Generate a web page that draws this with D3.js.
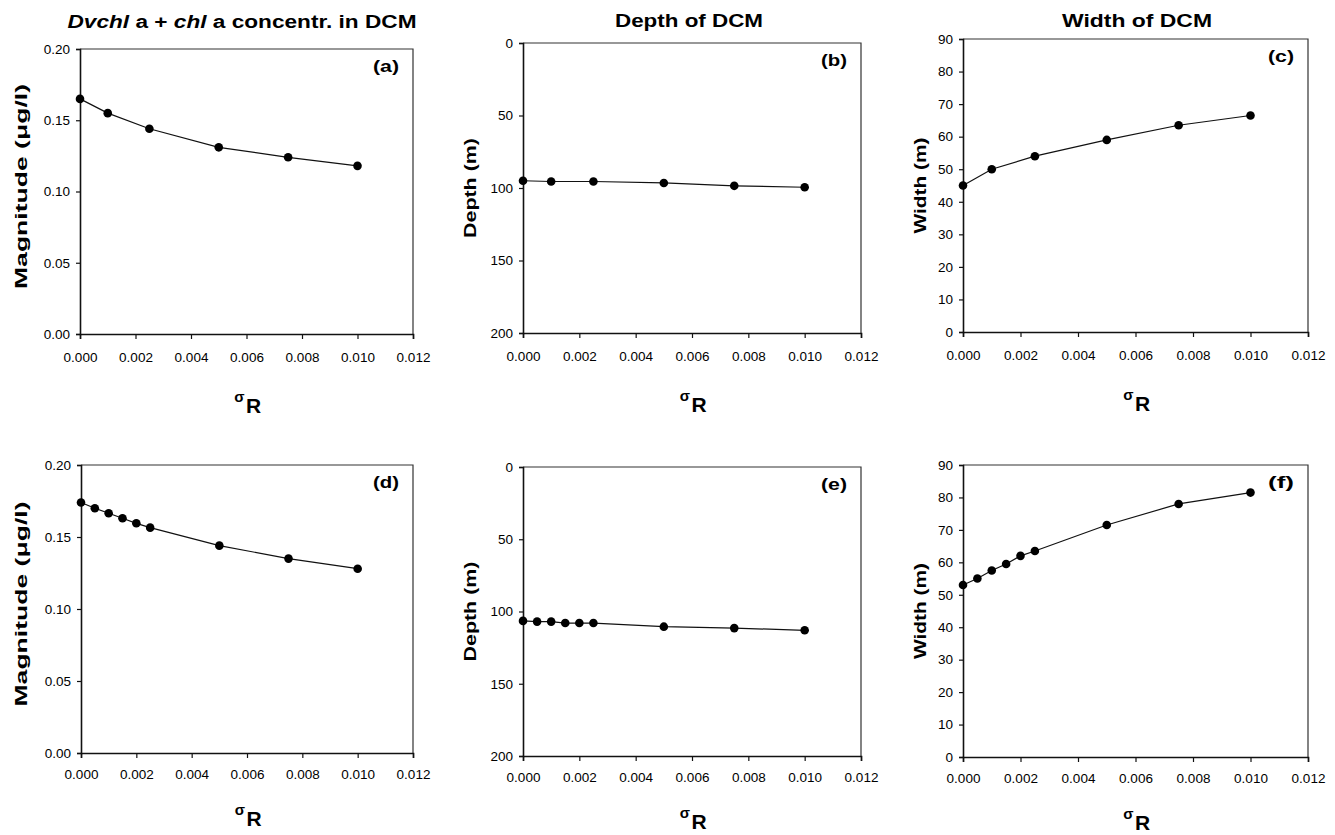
<!DOCTYPE html>
<html>
<head>
<meta charset="utf-8">
<script src="https://cdn.jsdelivr.net/npm/d3@7"></script>
<style>
  html, body { margin: 0; padding: 0; background: #fff; }
  svg { display: block; font-family: "Liberation Sans", Arial, sans-serif; }
  .tick text { font-size: 13.5px; fill: #000; }
</style>
</head>
<body>
<svg id="chart" width="1335" height="835"></svg>
<script>
// σR values used in each model run
const sigmaTop = [0, 0.001, 0.0025, 0.005, 0.0075, 0.010];
const sigmaBottom = [0, 0.0005, 0.001, 0.0015, 0.002, 0.0025, 0.005, 0.0075, 0.010];

// Dvchl a + chl a concentration at the DCM (µg/l)
const magnitudeTop = [0.165, 0.155, 0.144, 0.131, 0.124, 0.118];
const magnitudeBottom = [0.174, 0.170, 0.1665, 0.163, 0.1595, 0.1565, 0.144, 0.135, 0.128];

// Depth of the DCM (m)
const depthTop = [95, 95.5, 95.5, 96.5, 98.5, 99.5];
const depthBottom = [106.5, 107, 107, 108, 108, 108, 110.5, 111.5, 113];

// Width of the DCM (m)
const widthTop = [45, 50, 54, 59, 63.5, 66.5];
const widthBottom = [53, 55, 57.5, 59.5, 62, 63.5, 71.5, 78, 81.5];

// Axis ticks
const sigmaTicks = [0, 0.002, 0.004, 0.006, 0.008, 0.010, 0.012];
const magnitudeTicks = [0, 0.05, 0.10, 0.15, 0.20];
const depthTicks = [0, 50, 100, 150, 200];
const widthTicks = [0, 10, 20, 30, 40, 50, 60, 70, 80, 90];

const svg = d3.select("#chart");

const panels = [
  { id: "(a)", x: sigmaTop, y: magnitudeTop, yDomain: [0, 0.20], yTicks: magnitudeTicks, yFmt: d3.format(".2f"),
    yTitle: "Magnitude (\u03bcg/l)", titleLen: 205, box: { l: 80, r: 413, t: 49, b: 334 }, titleX: 21, titleDy: -5 },
  { id: "(b)", x: sigmaTop, y: depthTop, yDomain: [0, 200], yTicks: depthTicks, yFmt: d3.format("d"), invert: true,
    yTitle: "Depth (m)", titleLen: 100, box: { l: 523, r: 861, t: 43, b: 333 }, titleX: 470, titleDy: 0 },
  { id: "(c)", x: sigmaTop, y: widthTop, yDomain: [0, 90], yTicks: widthTicks, yFmt: d3.format("d"),
    yTitle: "Width (m)", titleLen: 96, box: { l: 963, r: 1308, t: 39, b: 332 }, titleX: 920, titleDy: 0 },
  { id: "(d)", x: sigmaBottom, y: magnitudeBottom, yDomain: [0, 0.20], yTicks: magnitudeTicks, yFmt: d3.format(".2f"),
    yTitle: "Magnitude (\u03bcg/l)", titleLen: 205, box: { l: 81, r: 413, t: 465, b: 753 }, titleX: 21, titleDy: -5 },
  { id: "(e)", x: sigmaBottom, y: depthBottom, yDomain: [0, 200], yTicks: depthTicks, yFmt: d3.format("d"), invert: true,
    yTitle: "Depth (m)", titleLen: 100, box: { l: 523, r: 861, t: 467, b: 756 }, titleX: 470, titleDy: 0 },
  { id: "(f)", x: sigmaBottom, y: widthBottom, yDomain: [0, 90], yTicks: widthTicks, yFmt: d3.format("d"),
    yTitle: "Width (m)", titleLen: 96, box: { l: 963, r: 1308, t: 465, b: 757 }, titleX: 920, titleDy: 0 }
];

panels.forEach((p, i) => {
  const b = p.box;
  const bottomRow = i >= 3;
  const x = d3.scaleLinear().domain([0, 0.012]).range([b.l, b.r]);
  const y = d3.scaleLinear().domain(p.yDomain).range(p.invert ? [b.t, b.b] : [b.b, b.t]);
  const g = svg.append("g");

  // frame (top and right edges)
  g.append("path")
    .attr("d", `M${b.l},${b.t}H${b.r}V${b.b}`)
    .attr("fill", "none").attr("stroke", "#333").attr("stroke-width", 1.2);

  // x axis along the bottom
  const xAxis = g.append("g")
    .attr("transform", `translate(0,${b.b})`)
    .call(d3.axisBottom(x).tickValues(sigmaTicks).tickFormat(d3.format(".3f")).tickSize(5).tickPadding(bottomRow ? 11 : 13));
  xAxis.select(".domain").attr("stroke", "#111").attr("stroke-width", 1.6);
  xAxis.selectAll(".tick line").attr("stroke", "#111").attr("stroke-width", 1.2);

  // y axis on the left
  const yAxis = g.append("g")
    .attr("transform", `translate(${b.l},0)`)
    .call(d3.axisLeft(y).tickValues(p.yTicks).tickFormat(p.yFmt).tickSize(4).tickPadding(6));
  yAxis.select(".domain").attr("stroke", "#111").attr("stroke-width", 1.6);
  yAxis.selectAll(".tick line").attr("stroke", "#111").attr("stroke-width", 1.2);

  // series line and markers
  const pts = p.x.map((v, k) => [v, p.y[k]]);
  g.append("path")
    .datum(pts)
    .attr("fill", "none").attr("stroke", "#111").attr("stroke-width", 1.2)
    .attr("d", d3.line().x(d => x(d[0])).y(d => y(d[1])));
  g.selectAll("circle.pt").data(pts).join("circle")
    .attr("class", "pt")
    .attr("cx", d => x(d[0])).attr("cy", d => y(d[1]))
    .attr("r", 4.3).attr("fill", "#000");

  // panel letter
  g.append("text")
    .attr("x", b.r - 14).attr("y", b.t + 23)
    .attr("text-anchor", "end")
    .attr("font-size", 16).attr("font-weight", "bold")
    .attr("textLength", 26).attr("lengthAdjust", "spacingAndGlyphs")
    .text(p.id);

  // y-axis title
  g.append("text")
    .attr("transform", `translate(${p.titleX},${(b.t + b.b) / 2 + p.titleDy}) rotate(-90)`)
    .attr("text-anchor", "middle").attr("dy", "0.36em")
    .attr("font-size", 17).attr("font-weight", "bold")
    .attr("textLength", p.titleLen).attr("lengthAdjust", "spacingAndGlyphs")
    .text(p.yTitle);

  // x-axis title σR
  const cx = (b.l + b.r) / 2;
  const rBase = b.b + (bottomRow ? 73 : 79);
  g.append("text")
    .attr("x", cx - 7).attr("y", rBase - 11)
    .attr("text-anchor", "middle").attr("font-weight", "bold").attr("font-size", 15)
    .text("\u03c3");
  g.append("text")
    .attr("x", cx + 7).attr("y", rBase)
    .attr("text-anchor", "middle").attr("font-weight", "bold").attr("font-size", 21)
    .text("R");
});

// column titles
const titleRow = svg.append("g").attr("font-weight", "bold").attr("font-size", 18);
const t1 = titleRow.append("text").attr("x", 242).attr("y", 28).attr("text-anchor", "middle")
  .attr("textLength", 349).attr("lengthAdjust", "spacingAndGlyphs");
t1.append("tspan").attr("font-style", "italic").text("Dvchl");
t1.append("tspan").text(" a + ");
t1.append("tspan").attr("font-style", "italic").text("chl");
t1.append("tspan").text(" a concentr. in DCM");
titleRow.append("text").attr("x", 689).attr("y", 27).attr("text-anchor", "middle")
  .attr("textLength", 148).attr("lengthAdjust", "spacingAndGlyphs").text("Depth of DCM");
titleRow.append("text").attr("x", 1137).attr("y", 27).attr("text-anchor", "middle")
  .attr("textLength", 150).attr("lengthAdjust", "spacingAndGlyphs").text("Width of DCM");
</script>
</body>
</html>
